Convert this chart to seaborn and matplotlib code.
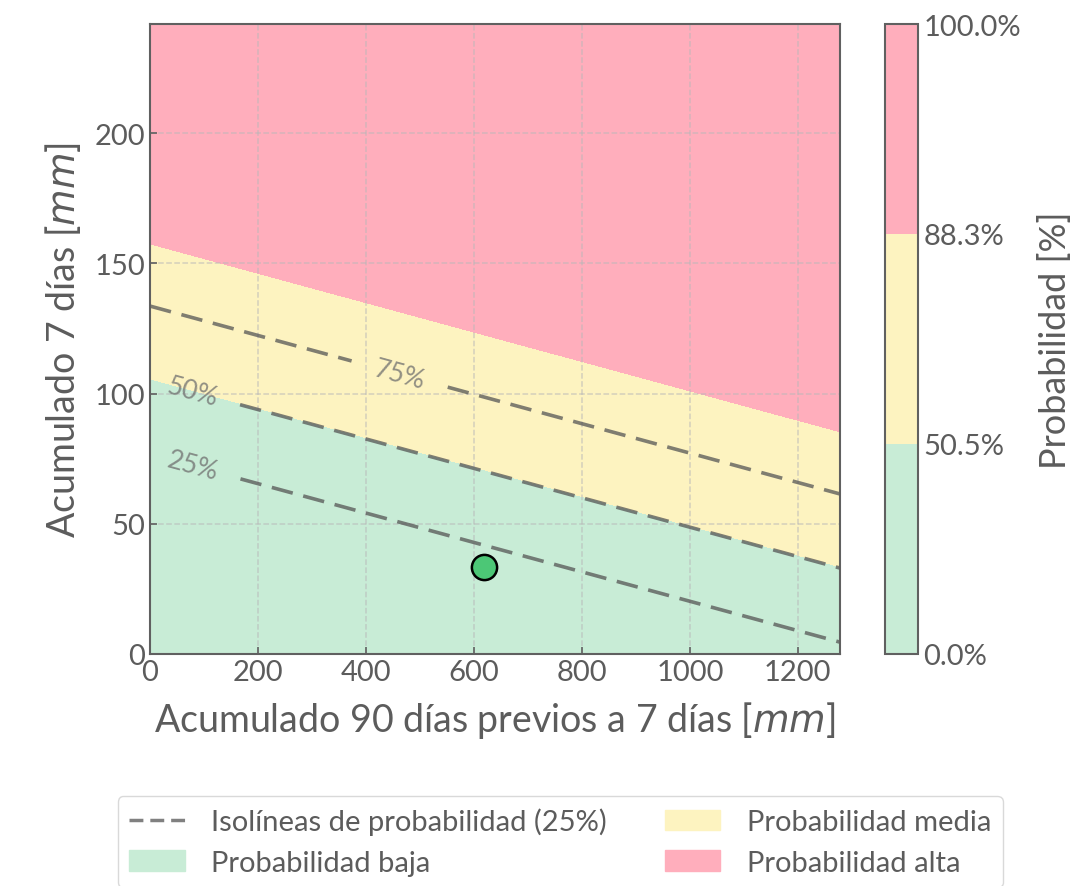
import numpy as np
import matplotlib
matplotlib.use('Agg')
import matplotlib.pyplot as plt
from matplotlib.colors import ListedColormap, BoundaryNorm
from matplotlib.lines import Line2D
from matplotlib.patches import Patch
import seaborn as sns

# logistic model: logit(p) = b0 + bx*x + by*y
b0 = -4.06
bx = 0.00218
by = 0.0386

# class limits of the filled regions and their colours
class_levels = [0.0, 0.505, 0.883, 1.0]
class_colors = ['#c8ecd6', '#fdf3c0', '#ffaebc']
class_names = ['Probabilidad baja', 'Probabilidad media', 'Probabilidad alta']

# isolines every 25%
iso_levels = [0.25, 0.50, 0.75]

# observed point
point_x = [619]
point_y = [33.5]

x_max = 1278
y_max = 242

sns.set_theme(style='ticks')
plt.rcParams['font.family'] = ['Lato', 'DejaVu Sans']
plt.rcParams['mathtext.fontset'] = 'dejavusans'
text_col = '#5c5c5c'
edge_col = '#606060'
dash = (0, (6, 3))

fig = plt.figure(figsize=(10.92, 8.87), dpi=100)
ax = fig.add_axes([0.1374, 0.2616, 0.6318, 0.7102])
cax = fig.add_axes([0.8104, 0.2616, 0.0303, 0.7102])

gx = np.linspace(0, x_max, 400)
gy = np.linspace(0, y_max, 400)
X, Y = np.meshgrid(gx, gy)
P = 1 / (1 + np.exp(-(b0 + bx * X + by * Y)))

cmap = ListedColormap(class_colors)
norm = BoundaryNorm(class_levels, cmap.N)
cf = ax.contourf(X, Y, P, levels=class_levels, cmap=cmap, norm=norm, zorder=1)

cs = ax.contour(X, Y, P, levels=iso_levels, colors='#555555', linestyles=[dash],
                linewidths=2.6, alpha=0.75, zorder=3)
ax.clabel(cs, fmt=lambda v: f'{v * 100:.0f}%', fontsize=19, colors='#6e6e6e',
          inline=True, inline_spacing=24,
          manual=[(463, 108), (78, 101), (78, 72)])

sns.scatterplot(x=point_x, y=point_y, ax=ax, s=330, color='#4cc776',
                edgecolor='black', linewidth=1.8, zorder=5, legend=False)

ax.set_xlim(0, x_max)
ax.set_ylim(0, y_max)
ax.set_xticks([0, 200, 400, 600, 800, 1000, 1200])
ax.set_yticks([0, 50, 100, 150, 200])
ax.set_axisbelow(False)
ax.grid(True, linestyle='--', color='#b8b8b8', linewidth=1.1, alpha=0.6, zorder=2)
ax.tick_params(direction='in', length=5, width=1.2, colors=edge_col,
               labelcolor=text_col, labelsize=21)
for s in ax.spines.values():
    s.set_color(edge_col)
    s.set_linewidth(1.5)
    s.set_zorder(6)
ax.set_xlabel('Acumulado 90 días previos a 7 días [$mm$]', fontsize=27,
              color=text_col, labelpad=10)
ax.set_ylabel('Acumulado 7 días [$mm$]', fontsize=27, color=text_col, labelpad=8)

cb = fig.colorbar(cf, cax=cax, ticks=class_levels)
cb.ax.set_yticklabels([f'{v * 100:.1f}%' for v in class_levels])
cb.ax.tick_params(length=0, labelsize=21, labelcolor=text_col, pad=4)
cb.outline.set_edgecolor(edge_col)
cb.outline.set_linewidth(1.5)
cb.set_label('Probabilidad [%]', fontsize=26, color=text_col, labelpad=12)

handles = [Line2D([0], [0], color='#555555', linestyle=(0, (4, 2)), linewidth=2.5, alpha=0.75),
           Patch(color=class_colors[0]), Patch(color=class_colors[1]),
           Patch(color=class_colors[2])]
labels = ['Isolíneas de probabilidad (25%)', class_names[0], class_names[1], class_names[2]]
leg = fig.legend(handles, labels, loc='upper center', bbox_to_anchor=(0.513, 0.118),
                 ncol=2, fontsize=21, frameon=True, columnspacing=2.0,
                 handlelength=1.9, handletextpad=0.9, labelspacing=0.5)
leg.get_frame().set_edgecolor('#d0d0d0')
for t in leg.get_texts():
    t.set_color(text_col)

fig.savefig('out.png', dpi=100)
